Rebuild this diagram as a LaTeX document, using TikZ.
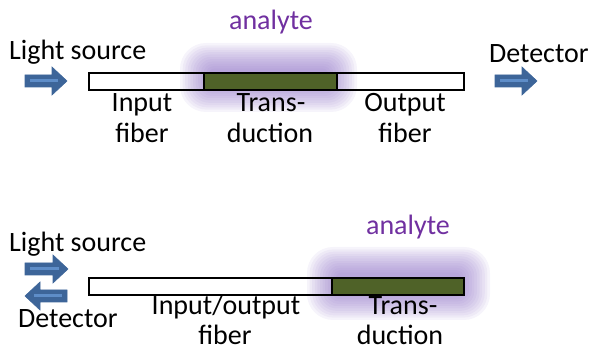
\documentclass[tikz,border=0pt]{standalone}
\usepackage{fontspec}
\setmainfont{Carlito}
\definecolor{glowc}{HTML}{8A6CC4}
\definecolor{greenc}{HTML}{4F6228}
\definecolor{arrowc}{HTML}{3D6599}
\definecolor{arrowin}{HTML}{5E8DC8}
\definecolor{anac}{HTML}{7030A0}
\begin{document}
\begin{tikzpicture}[x=1pt,y=-1pt,
  lbl/.style={font=\fontsize{28}{31}\selectfont, inner sep=0pt, anchor=base},
  fiber/.style={draw=black, line width=2.2pt},
  trans/.style={draw=black, line width=2.2pt, fill=greenc},
  blk/.style={fill=arrowc, draw=arrowc, line width=0.6pt, line join=miter},
  blkin/.style={draw=arrowin, line width=3pt}
]
\useasboundingbox (0,0) rectangle (590,352);
% glow macro
\newcommand{\myglow}[4]{%
  \foreach \i in {0,...,11} {
    \fill[glowc, opacity=0.075, rounded corners={max(2,26-1.8*\i)}]
      ({#1+2.6*\i},{#2+2.3*\i}) rectangle ({#3-2.6*\i},{#4-2.3*\i});
  }}
\newcommand{\rarrow}[3]{% x0 x1 cy
  \fill[blk] (#1,#3-6) -- ({#2-15},#3-6) -- ({#2-15},#3-14) -- (#2,#3) -- ({#2-15},#3+14) -- ({#2-15},#3+6) -- (#1,#3+6) -- cycle;
  \draw[blkin] ({#1+5},#3) -- ({#2-9},#3);}
\newcommand{\larrow}[3]{% x0 x1 cy, pointing left
  \fill[blk] (#2,#3-6) -- ({#1+15},#3-6) -- ({#1+15},#3-14) -- (#1,#3) -- ({#1+15},#3+14) -- ({#1+15},#3+6) -- (#2,#3+6) -- cycle;
  \draw[blkin] ({#2-5},#3) -- ({#1+9},#3);}

% ---------- top ----------
\fill[white] (88,72) rectangle (463,89);
\myglow{180}{43}{357}{112}
\node[fiber, minimum width=375pt, minimum height=17pt, inner sep=0pt, anchor=north west] (f1) at (88,72) {};
\node[trans, minimum width=133pt, minimum height=17pt, inner sep=0pt, anchor=north west] (t1) at (203,72) {};
\rarrow{25}{67}{81}
\rarrow{495}{537}{81}
\node[lbl, text=anac] (ana1) at (271,30) {analyte};
\node[lbl, anchor=base west] (ls1) at (9,60) {Light source};
\node[lbl, anchor=base west] (det1) at (489,63) {Detector};
\node[lbl] (in1a) at (142,112) {Input};
\node[lbl] (in1b) at (142,143) {fiber};
\node[lbl] (tr1a) at (271,112) {Trans-};
\node[lbl] (tr1b) at (270,143) {duction};
\node[lbl] (out1a) at (405,112) {Output};
\node[lbl] (out1b) at (405,143) {fiber};

% ---------- bottom ----------
\fill[white] (88,277) rectangle (463,294);
\myglow{307}{247}{490}{320}
\node[fiber, minimum width=375pt, minimum height=17pt, inner sep=0pt, anchor=north west] (f2) at (88,277) {};
\node[trans, minimum width=132pt, minimum height=17pt, inner sep=0pt, anchor=north west] (t2) at (331,277) {};
\rarrow{25}{68}{269}
\larrow{25}{67}{296}
\node[lbl, text=anac] (ana2) at (408,235) {analyte};
\node[lbl, anchor=base west] (ls2) at (9,252) {Light source};
\node[lbl, anchor=base west] (det2) at (18,328) {Detector};
\node[lbl] (io2a) at (226,315) {Input/output};
\node[lbl] (io2b) at (225,345) {fiber};
\node[lbl] (tr2a) at (403,315) {Trans-};
\node[lbl] (tr2b) at (400,345) {duction};
\end{tikzpicture}
\end{document}
